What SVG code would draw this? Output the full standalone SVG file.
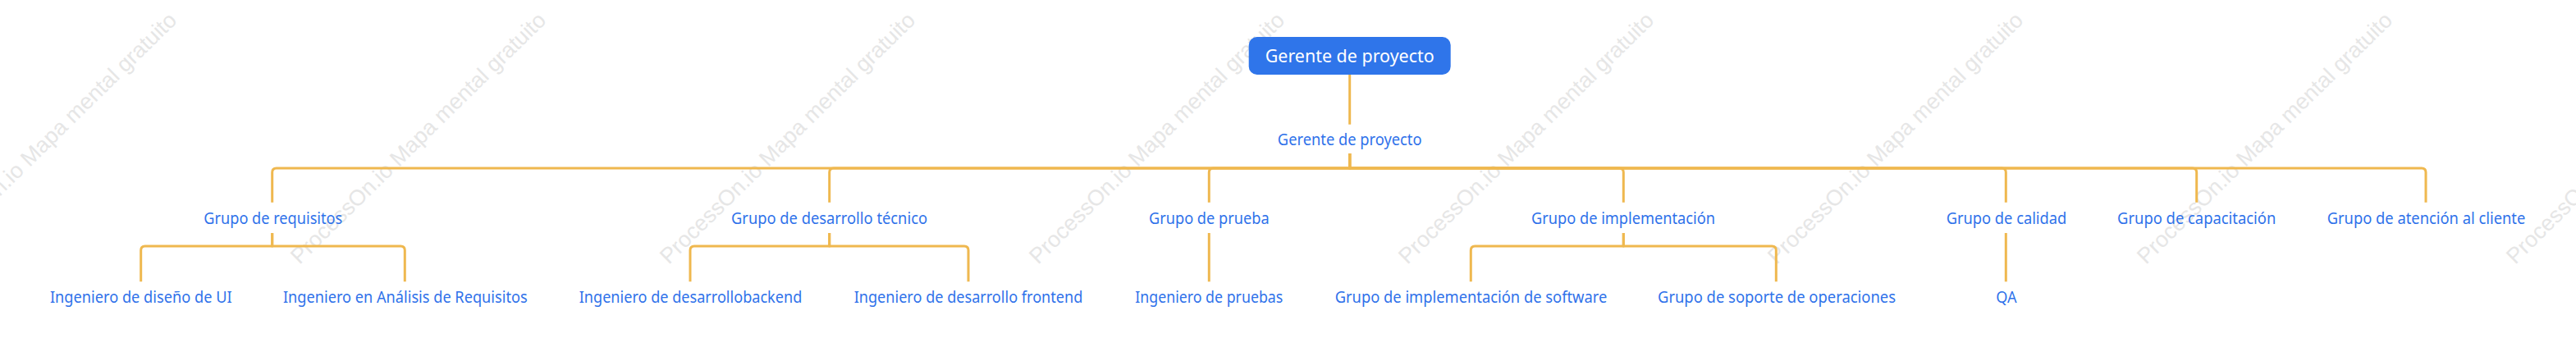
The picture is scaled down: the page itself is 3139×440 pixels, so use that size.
<svg xmlns="http://www.w3.org/2000/svg" width="3139" height="440" viewBox="0 0 3139 440">
<style>
.wm{font-family:"Liberation Sans",Arial,sans-serif;font-size:27px;fill:#e6e6e6}
.lbl{font-family:"Noto Sans","Open Sans",sans-serif;font-size:19px;fill:#2f72ea;text-anchor:middle}
.root{font-family:"Noto Sans","Open Sans",sans-serif;font-size:22px;fill:#ffffff;text-anchor:middle}
.con{fill:none;stroke:#efb84f;stroke-width:3;stroke-linecap:butt;stroke-linejoin:round}
</style>
<rect width="3139" height="440" fill="#ffffff"/>
<g id="watermarks">
<text class="wm" transform="translate(-85,323) rotate(-44.5)">ProcessOn.io Mapa mental gratuito</text>
<text class="wm" transform="translate(365,323) rotate(-44.5)">ProcessOn.io Mapa mental gratuito</text>
<text class="wm" transform="translate(815,323) rotate(-44.5)">ProcessOn.io Mapa mental gratuito</text>
<text class="wm" transform="translate(1265,323) rotate(-44.5)">ProcessOn.io Mapa mental gratuito</text>
<text class="wm" transform="translate(1715,323) rotate(-44.5)">ProcessOn.io Mapa mental gratuito</text>
<text class="wm" transform="translate(2165,323) rotate(-44.5)">ProcessOn.io Mapa mental gratuito</text>
<text class="wm" transform="translate(2615,323) rotate(-44.5)">ProcessOn.io Mapa mental gratuito</text>
<text class="wm" transform="translate(3065,323) rotate(-44.5)">ProcessOn.io Mapa mental gratuito</text>
</g>
<g id="connectors">
<path class="con" d="M1644.7,91V151.7"/>
<path class="con" d="M1644.7,187V205H336.7Q331.7,205 331.7,210V246.7"/>
<path class="con" d="M1644.7,187V205H1015.7Q1010.7,205 1010.7,210V246.7"/>
<path class="con" d="M1644.7,187V205H1478.3Q1473.3,205 1473.3,210V246.7"/>
<path class="con" d="M1644.7,187V205H1973.3Q1978.3,205 1978.3,210V246.7"/>
<path class="con" d="M1644.7,187V205H2439.3Q2444.3,205 2444.3,210V246.7"/>
<path class="con" d="M1644.7,187V205H2671.7Q2676.7,205 2676.7,210V246.7"/>
<path class="con" d="M1644.7,187V205H2951Q2956,205 2956,210V246.7"/>
<path class="con" d="M331.7,284V300H176.7Q171.7,300 171.7,305V343.3"/>
<path class="con" d="M331.7,284V300H488.3Q493.3,300 493.3,305V343.3"/>
<path class="con" d="M1010.7,284V300H846Q841,300 841,305V343.3"/>
<path class="con" d="M1010.7,284V300H1175Q1180,300 1180,305V343.3"/>
<path class="con" d="M1473.3,284V343.3"/>
<path class="con" d="M1978.3,284V300H1797.3Q1792.3,300 1792.3,305V343.3"/>
<path class="con" d="M1978.3,284V300H2159.3Q2164.3,300 2164.3,305V343.3"/>
<path class="con" d="M2444.3,284V343.3"/>
</g>
<g id="node-root">
<rect x="1521.7" y="45" width="246" height="46" rx="10" fill="#2f75ea"/>
<text class="root" x="1644.7" y="76" textLength="206" lengthAdjust="spacingAndGlyphs">Gerente de proyecto</text>
</g>
<g id="node-gerente">
<text class="lbl" x="1644.7" y="176.7" textLength="175.7" lengthAdjust="spacingAndGlyphs">Gerente de proyecto</text>
</g>
<g id="node-requisitos">
<text class="lbl" x="332.8" y="272.7" textLength="169" lengthAdjust="spacingAndGlyphs">Grupo de requisitos</text>
</g>
<g id="node-desarrollo">
<text class="lbl" x="1010.5" y="272.7" textLength="239" lengthAdjust="spacingAndGlyphs">Grupo de desarrollo técnico</text>
</g>
<g id="node-prueba">
<text class="lbl" x="1473.3" y="272.7" textLength="146.7" lengthAdjust="spacingAndGlyphs">Grupo de prueba</text>
</g>
<g id="node-implementacion">
<text class="lbl" x="1978" y="272.7" textLength="224" lengthAdjust="spacingAndGlyphs">Grupo de implementación</text>
</g>
<g id="node-calidad">
<text class="lbl" x="2445" y="272.7" textLength="146.6" lengthAdjust="spacingAndGlyphs">Grupo de calidad</text>
</g>
<g id="node-capacitacion">
<text class="lbl" x="2676.7" y="272.7" textLength="193.2" lengthAdjust="spacingAndGlyphs">Grupo de capacitación</text>
</g>
<g id="node-atencion">
<text class="lbl" x="2956.5" y="272.7" textLength="241.6" lengthAdjust="spacingAndGlyphs">Grupo de atención al cliente</text>
</g>
<g id="node-ui">
<text class="lbl" x="171.8" y="369.3" textLength="221.7" lengthAdjust="spacingAndGlyphs">Ingeniero de diseño de UI</text>
</g>
<g id="node-analisis">
<text class="lbl" x="493.8" y="369.3" textLength="297.7" lengthAdjust="spacingAndGlyphs">Ingeniero en Análisis de Requisitos</text>
</g>
<g id="node-backend">
<text class="lbl" x="841.5" y="369.3" textLength="271.6" lengthAdjust="spacingAndGlyphs">Ingeniero de desarrollobackend</text>
</g>
<g id="node-frontend">
<text class="lbl" x="1180" y="369.3" textLength="278.6" lengthAdjust="spacingAndGlyphs">Ingeniero de desarrollo frontend</text>
</g>
<g id="node-pruebas">
<text class="lbl" x="1473.3" y="369.3" textLength="180" lengthAdjust="spacingAndGlyphs">Ingeniero de pruebas</text>
</g>
<g id="node-software">
<text class="lbl" x="1792.5" y="369.3" textLength="331.6" lengthAdjust="spacingAndGlyphs">Grupo de implementación de software</text>
</g>
<g id="node-soporte">
<text class="lbl" x="2165" y="369.3" textLength="290" lengthAdjust="spacingAndGlyphs">Grupo de soporte de operaciones</text>
</g>
<g id="node-qa">
<text class="lbl" x="2445" y="369.3" textLength="25.3" lengthAdjust="spacingAndGlyphs">QA</text>
</g>
</svg>
